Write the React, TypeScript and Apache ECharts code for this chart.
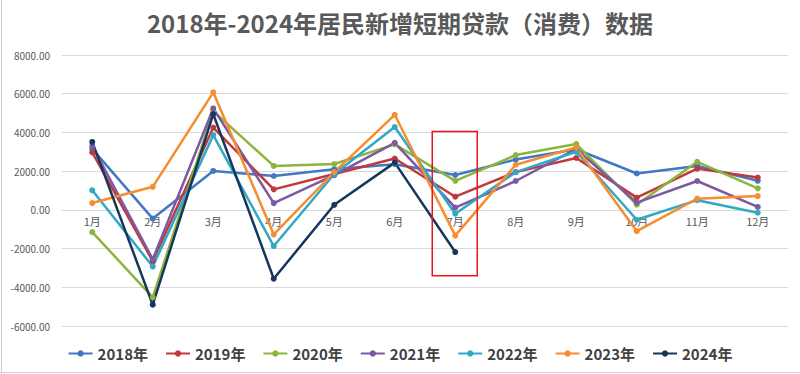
import React, { useEffect, useRef } from "react";
import * as echarts from "echarts";

const months = ["1月", "2月", "3月", "4月", "5月", "6月", "7月", "8月", "9月", "10月", "11月", "12月"];
const seriesNames = ["2018年", "2019年", "2020年", "2021年", "2022年", "2023年", "2024年"];
const v2018 = [3150, -450, 2010, 1750, 2100, 2360, 1800, 2600, 3130, 1880, 2270, 1500];
const v2019 = [2970, -2650, 4250, 1060, 1850, 2650, 680, 1950, 2680, 630, 2130, 1670];
const v2020 = [-1150, -4520, 5100, 2270, 2370, 3380, 1500, 2830, 3400, 270, 2480, 1110];
const v2021 = [3300, -2550, 5240, 350, 1790, 3460, 120, 1490, 3150, 370, 1490, 150];
const v2022 = [1010, -2930, 3860, -1870, 1850, 4280, -200, 1950, 3000, -510, 500, -150];
const v2023 = [350, 1190, 6070, -1270, 1950, 4910, -1330, 2330, 3220, -1100, 580, 710];
const v2024 = [3510, -4900, 4950, -3560, 260, 2440, -2180, null, null, null, null, null];
const colors = ["#3F78C3", "#C0393B", "#8DB43D", "#7D58A3", "#30A8C6", "#F68D2E", "#17365D"];
const yTicks = { min: -6000, max: 8000, interval: 2000 };
const highlightMonth = "7月";
const highlightRange = [4050, -3400];

export default function App() {
  const ref = useRef<HTMLDivElement>(null);
  useEffect(() => {
    if (!ref.current) return;
    const chart = echarts.init(ref.current, null, { renderer: "svg" });
    const all = [v2018, v2019, v2020, v2021, v2022, v2023, v2024];
    const font = "'Noto Sans CJK SC', 'Noto Sans', sans-serif";
    chart.setOption({
      animation: false,
      color: colors,
      title: {
        text: "2018年-2024年居民新增短期贷款（消费）数据",
        left: "center",
        top: 5,
        textStyle: { fontSize: 24, fontWeight: "bold", color: "#595959", fontFamily: font },
      },
      grid: { left: 62, right: 12, top: 55, bottom: 48 },
      legend: {
        data: seriesNames,
        top: 341,
        left: "center",
        itemWidth: 24,
        itemHeight: 8,
        itemGap: 17,
        textStyle: { fontSize: 15, color: "#404040", fontFamily: font, fontWeight: "bold" },
      },
      xAxis: {
        type: "category",
        data: months,
        boundaryGap: true,
        axisLine: { onZero: false, lineStyle: { color: "#d9d9d9" } },
        axisTick: { show: false },
        axisLabel: { fontSize: 11, color: "#595959", margin: 6, fontFamily: font },
      },
      yAxis: {
        type: "value",
        min: yTicks.min,
        max: yTicks.max,
        interval: yTicks.interval,
        axisLine: { show: false },
        axisTick: { show: false },
        splitLine: { lineStyle: { color: "#d9d9d9", width: 1 } },
        axisLabel: {
          fontSize: 10,
          color: "#595959",
          margin: 12,
          fontFamily: font,
          formatter: (v: number) => v.toFixed(2),
        },
      },
      series: seriesNames.map((name, i) => ({
        name,
        type: "line",
        data: all[i],
        symbol: "circle",
        symbolSize: 6,
        lineStyle: { width: 2.5 },
        connectNulls: false,
      })),
    });
    const cx = chart.convertToPixel({ xAxisIndex: 0 }, highlightMonth) as number;
    const yTop = chart.convertToPixel({ yAxisIndex: 0 }, highlightRange[0]) as number;
    const yBot = chart.convertToPixel({ yAxisIndex: 0 }, highlightRange[1]) as number;
    const yZero = chart.convertToPixel({ yAxisIndex: 0 }, 0) as number;
    const yMin = chart.convertToPixel({ yAxisIndex: 0 }, yTicks.min) as number;
    chart.setOption({
      xAxis: { offset: -(yMin - yZero) },
      graphic: [
        {
          type: "rect",
          shape: { x: cx - 23, y: yTop, width: 45, height: yBot - yTop },
          style: { fill: "none", stroke: "#E8161B", lineWidth: 1.5 },
          z: 100,
        },
        {
          type: "line",
          shape: { x1: 1.5, y1: 0, x2: 1.5, y2: 374 },
          style: { stroke: "#d0d0d0", lineWidth: 1 },
        },
        {
          type: "line",
          shape: { x1: 0, y1: 372.5, x2: 800, y2: 372.5 },
          style: { stroke: "#d0d0d0", lineWidth: 1 },
        },
      ],
    });
    return () => chart.dispose();
  }, []);
  return (
    <div
      ref={ref}
      style={{ position: "absolute", left: 0, top: 0, width: 800, height: 374, background: "#fff" }}
    />
  );
}
